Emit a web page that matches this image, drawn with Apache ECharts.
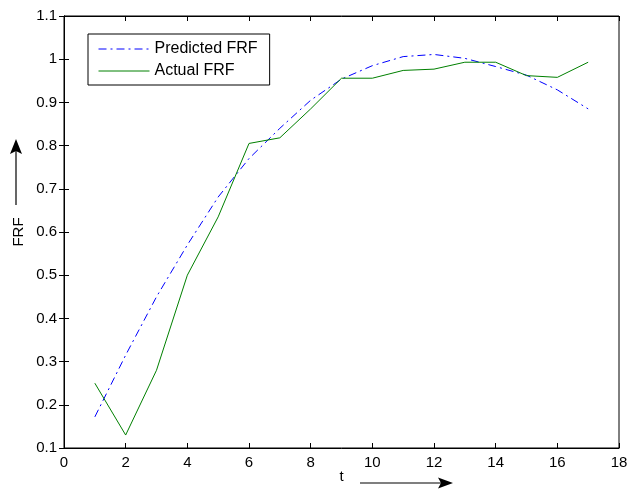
<!DOCTYPE html>
<html>
<head>
<meta charset="utf-8">
<script src="https://cdn.jsdelivr.net/npm/echarts@6/dist/echarts.min.js"></script>
<style>html,body{margin:0;padding:0;background:#fff}#c{width:629px;height:492px}</style>
</head>
<body>
<div id="c"></div>
<script>
var tValues = [1,2,3,4,5,6,7,8,9,10,11,12,13,14,15,16,17];
var predictedFRF = [0.172,0.315,0.45,0.57,0.681,0.77,0.84,0.905,0.954,0.985,1.006,1.011,1.002,0.983,0.963,0.929,0.885];
var actualFRF = [0.25,0.13,0.28,0.50,0.635,0.805,0.818,0.885,0.956,0.956,0.974,0.977,0.993,0.993,0.962,0.958,0.993];
var seriesNames = ['Predicted FRF','Actual FRF'];

var font = 'Liberation Sans, Arial, sans-serif';
function pairs(ys){return tValues.map(function(t,i){return [t,ys[i]];});}
var chart = echarts.init(document.getElementById('c'));
var tickStyle = {show:true, inside:true, length:5, lineStyle:{color:'#000',width:1}};
chart.setOption({
  animation:false,
  backgroundColor:'#fff',
  grid:{left:64,right:10,top:16,bottom:44,show:true,borderColor:'#000',borderWidth:1,
        outerBoundsMode:'none',containLabel:false},
  legend:{
    data:seriesNames, orient:'vertical', left:88, top:34,
    padding:[7,12,6,10], itemGap:6, itemWidth:51, itemHeight:17,
    borderColor:'#000', borderWidth:1, backgroundColor:'#fff',
    itemStyle:{opacity:0}, lineStyle:{width:1},
    textStyle:{fontFamily:font,fontSize:16,color:'#000'}
  },
  xAxis:[{
    type:'value', min:0, max:18, interval:2, position:'bottom',
    axisLine:{show:true,lineStyle:{color:'#000'}}, axisTick:tickStyle,
    splitLine:{show:false},
    axisLabel:{color:'#000',fontFamily:font,fontSize:15,margin:7},
    name:'t', nameLocation:'middle', nameGap:21, nameMoveOverlap:false,
    nameTextStyle:{color:'#000',fontFamily:font,fontSize:15}
  },{
    type:'value', min:0, max:18, interval:2, position:'top',
    axisLine:{show:true,lineStyle:{color:'#000'}}, axisTick:tickStyle,
    splitLine:{show:false}, axisLabel:{show:false}
  }],
  yAxis:[{
    type:'value', min:0.1, max:1.1, interval:0.1, position:'left',
    axisLine:{show:true,lineStyle:{color:'#000'}}, axisTick:tickStyle,
    splitLine:{show:false},
    axisLabel:{color:'#000',fontFamily:font,fontSize:15,margin:7,
      formatter:function(v){return String(+v.toFixed(1));}},
    name:'FRF', nameLocation:'middle', nameGap:38, nameRotate:90, nameMoveOverlap:false,
    nameTextStyle:{color:'#000',fontFamily:font,fontSize:15}
  },{
    type:'value', min:0.1, max:1.1, interval:0.1, position:'right',
    axisLine:{show:true,lineStyle:{color:'#000'}}, axisTick:tickStyle,
    splitLine:{show:false}, axisLabel:{show:false}
  }],
  series:[{
    name:seriesNames[0], type:'line', data:pairs(predictedFRF), symbol:'none',
    lineStyle:{color:'#0000ff',width:1,type:[8,4,2,4]}, itemStyle:{color:'#0000ff'}
  },{
    name:seriesNames[1], type:'line', data:pairs(actualFRF), symbol:'none',
    lineStyle:{color:'#008000',width:1}, itemStyle:{color:'#008000'}
  }],
  graphic:[
    {type:'line',shape:{x1:360,y1:483,x2:442,y2:483},style:{stroke:'#000',lineWidth:1.2}},
    {type:'polygon',shape:{points:[[453,483],[438,477.5],[441,483],[438,488.5]]},style:{fill:'#000'}},
    {type:'line',shape:{x1:16,y1:205,x2:16,y2:150},style:{stroke:'#000',lineWidth:1.2}},
    {type:'polygon',shape:{points:[[16,139],[10,154],[16,151],[22,154]]},style:{fill:'#000'}}
  ]
});
</script>
</body>
</html>
